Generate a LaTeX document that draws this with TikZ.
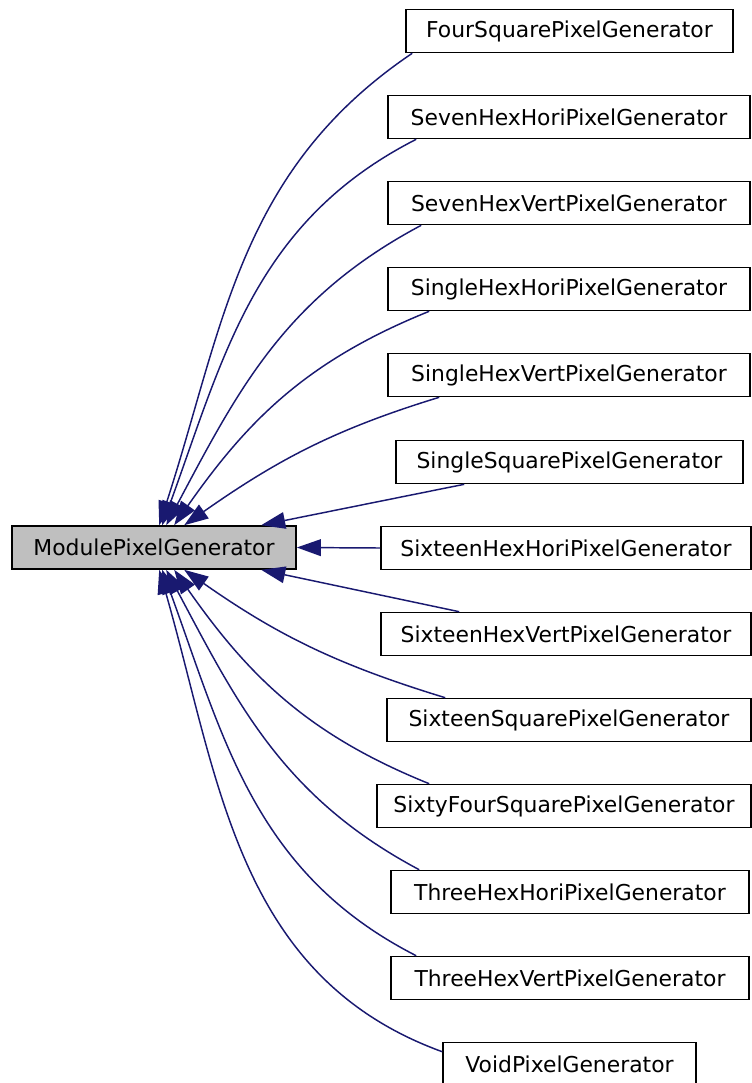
\documentclass[tikz,border=0pt]{standalone}
\usepackage{fontspec}
\setmainfont{DejaVu Sans}
\usetikzlibrary{arrows.meta,calc}
\definecolor{edgeblue}{HTML}{191970}
\definecolor{basegray}{HTML}{BFBFBF}

\begin{document}
\begin{tikzpicture}[
  x=0.75pt,y=0.75pt,
  cls/.style={draw=black,line width=1.2pt,minimum height=32.25pt,inner sep=2pt,
    font=\fontsize{16.4}{19}\selectfont},
  inh/.style={draw=edgeblue,line width=1.1pt,
    -{Triangle[length=18pt,width=12.5pt,fill=edgeblue]}}
]
\useasboundingbox (0,0) rectangle (751,-1083);

\node[cls,fill=basegray,minimum width=213pt] (base) at (154,-547.5) {ModulePixelGenerator};

\node[cls,minimum width=245.25pt] (four) at (569.5,-31) {FourSquarePixelGenerator};
\node[cls,minimum width=271.5pt] (sevenhh) at (569,-117) {SevenHexHoriPixelGenerator};
\node[cls,minimum width=271.5pt] (sevenhv) at (569,-203) {SevenHexVertPixelGenerator};
\node[cls,minimum width=271.5pt] (singlehh) at (569,-289) {SingleHexHoriPixelGenerator};
\node[cls,minimum width=271.5pt] (singlehv) at (569,-375) {SingleHexVertPixelGenerator};
\node[cls,minimum width=260.25pt] (singlesq) at (569.5,-462) {SingleSquarePixelGenerator};
\node[cls,minimum width=277.5pt] (sixteenhh) at (566,-548) {SixteenHexHoriPixelGenerator};
\node[cls,minimum width=277.5pt] (sixteenhv) at (566,-634) {SixteenHexVertPixelGenerator};
\node[cls,minimum width=273pt] (sixteensq) at (569,-720) {SixteenSquarePixelGenerator};
\node[cls,minimum width=280.5pt] (sixtyfour) at (564,-806) {SixtyFourSquarePixelGenerator};
\node[cls,minimum width=268.5pt] (threehh) at (570,-892) {ThreeHexHoriPixelGenerator};
\node[cls,minimum width=268.5pt] (threehv) at (570,-978) {ThreeHexVertPixelGenerator};
\node[cls,minimum width=189.75pt] (void) at (569.5,-1064) {VoidPixelGenerator};

% upper subclasses
\draw[inh] ($(four.south west)+(7,0)$) to[out=214,in=72] ($(base.north west)+(148,0)$);
\draw[inh] ($(sevenhh.south west)+(29,0)$) to[out=207,in=70] ($(base.north west)+(151,0)$);
\draw[inh] ($(sevenhv.south west)+(34,0)$) to[out=208,in=62] ($(base.north west)+(155,0)$);
\draw[inh] ($(singlehh.south west)+(42,0)$) to[out=202,in=55] ($(base.north west)+(163,0)$);
\draw[inh] ($(singlehv.south west)+(52,0)$) to[out=197,in=35] ($(base.north west)+(173,0)$);
\draw[inh] ($(singlesq.south west)+(69,0)$) -- ($(base.north west)+(250,0)$);

\draw[inh] (sixteenhh.west) -- (base.east);

% lower subclasses
\draw[inh] ($(sixteenhv.north west)+(79,0)$) -- ($(base.south west)+(250,0)$);
\draw[inh] ($(sixteensq.north west)+(59,0)$) to[out=163,in=-35] ($(base.south west)+(173,0)$);
\draw[inh] ($(sixtyfour.north west)+(53,0)$) to[out=158,in=-55] ($(base.south west)+(163,0)$);
\draw[inh] ($(threehh.north west)+(29,0)$) to[out=152,in=-62] ($(base.south west)+(155,0)$);
\draw[inh] ($(threehv.north west)+(26,0)$) to[out=153,in=-70] ($(base.south west)+(151,0)$);
\draw[inh] ($(void.north west)+(0,-10)$) to[out=160,in=-74] ($(base.south west)+(148,0)$);
\end{tikzpicture}
\end{document}
